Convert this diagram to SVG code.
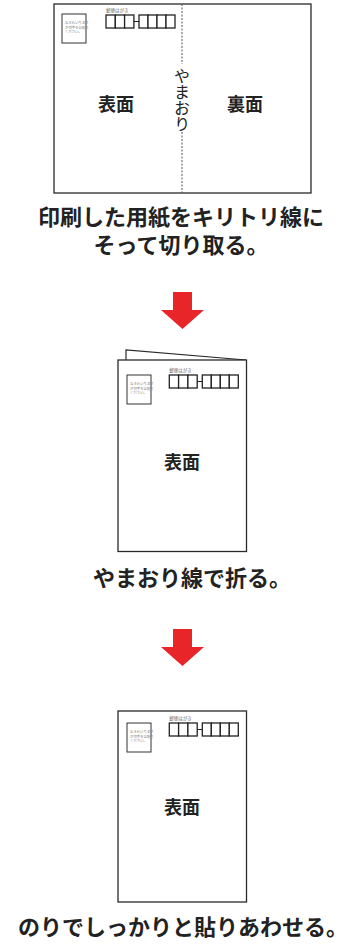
<svg xmlns="http://www.w3.org/2000/svg" width="360" height="948" viewBox="0 0 360 948">
<defs>
<style>
.card{fill:#fff;stroke:#2a2a2a;stroke-width:1.3}
.box{fill:#fff;stroke:#333;stroke-width:1}
.zip{fill:#fff;stroke:#222;stroke-width:1.3}
.tiny{font-family:"Noto Sans CJK JP",sans-serif;font-size:3.4px;fill:#777}
.ttl{font-family:"Noto Sans CJK JP",sans-serif;font-size:4.5px;fill:#666}
.lbl{font-family:"Noto Sans CJK JP",sans-serif;font-size:18px;font-weight:bold;fill:#222;text-anchor:middle}
.cap{font-family:"Noto Sans CJK JP",sans-serif;font-size:22px;font-weight:bold;fill:#222;text-anchor:middle}
.arrow{fill:#e8262a}
</style>
<g id="stamp">
<rect class="box" x="0" y="0" width="24" height="29"/>
<text class="tiny" x="3" y="10">おそれいります</text>
<text class="tiny" x="3" y="14.5">が切手をお貼り</text>
<text class="tiny" x="3" y="19">ください。</text>
</g>
<g id="zipcode">
<text class="ttl" x="0" y="-3">郵便はがき</text>
<rect class="zip" x="0" y="0" width="9.3" height="13"/>
<rect class="zip" x="9.3" y="0" width="9.3" height="13"/>
<rect class="zip" x="18.6" y="0" width="9.3" height="13"/>
<line x1="27.9" y1="6.5" x2="33" y2="6.5" stroke="#222" stroke-width="1"/>
<rect class="zip" x="33" y="0" width="9" height="13"/>
<rect class="zip" x="42" y="0" width="9" height="13"/>
<rect class="zip" x="51" y="0" width="9" height="13"/>
<rect class="zip" x="60" y="0" width="9" height="13"/>
</g>
</defs>

<g id="card1">
<rect class="card" x="54" y="4" width="257" height="189"/>
<use href="#stamp" x="62" y="14"/>
<use href="#zipcode" x="106" y="15"/>
<text class="lbl" x="116" y="111">表面</text>
<text class="lbl" x="245" y="111">裏面</text>
<text x="182" y="68" font-family="'Noto Sans CJK JP',sans-serif" font-size="16" fill="#222" style="writing-mode:vertical-rl" text-anchor="start">やまおり</text>
</g>

<g id="connectors">
<line x1="182" y1="4" x2="182" y2="64" stroke="#555" stroke-width="1" stroke-dasharray="2,1.5"/>
<line x1="182" y1="132" x2="182" y2="193" stroke="#555" stroke-width="1" stroke-dasharray="2,1.5"/>
<polygon class="arrow" points="173,292 192,292 192,310 204,310 182.5,329 161,310 173,310"/>
<polygon class="arrow" points="173,629 192,629 192,647 204,647 182.5,666 161,647 173,647"/>
</g>

<g id="caption1">
<text class="cap" x="181" y="225"><tspan x="181" y="225">印刷した用紙をキリトリ線に</tspan><tspan x="181" y="253">そって切り取る。</tspan></text>
</g>

<g id="card2">
<polyline points="126,360 126,350 246,360" fill="none" stroke="#2a2a2a" stroke-width="1.2"/>
<rect class="card" x="118" y="360" width="128.5" height="191.5"/>
<use href="#stamp" x="127" y="375"/>
<use href="#zipcode" x="169.3" y="375"/>
<text class="lbl" x="182" y="469">表面</text>
</g>

<g id="caption2">
<text class="cap" x="192" y="586">やまおり線で折る。</text>
</g>

<g id="card3">
<rect class="card" x="118" y="711" width="128.5" height="191"/>
<use href="#stamp" x="127" y="723"/>
<use href="#zipcode" x="169.3" y="723"/>
<text class="lbl" x="182" y="814">表面</text>
</g>

<g id="caption3">
<text class="cap" x="183" y="935">のりでしっかりと貼りあわせる。</text>
</g>
</svg>
